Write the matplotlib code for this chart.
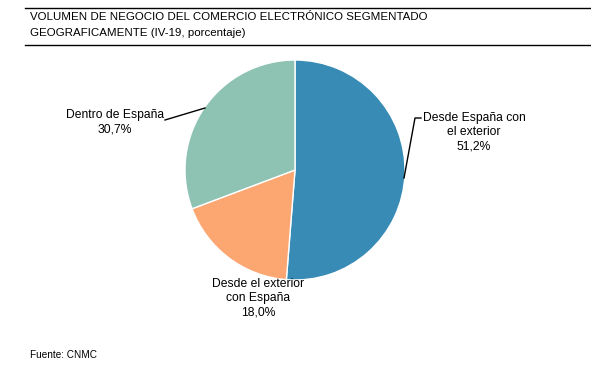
import matplotlib.pyplot as plt
from matplotlib.lines import Line2D

plt.rcParams['font.family'] = ['Liberation Sans', 'DejaVu Sans']

titulo = ["VOLUMEN DE NEGOCIO DEL COMERCIO ELECTRÓNICO SEGMENTADO",
          "GEOGRAFICAMENTE (IV-19, porcentaje)"]
categorias = ["Desde España con\nel exterior", "Desde el exterior\ncon España", "Dentro de España"]
valores = [51.2, 18.0, 30.7]
colores = ["#378bb5", "#fca672", "#8ec3b4"]
fuente = "Fuente: CNMC"

W, H = 591, 370
fig = plt.figure(figsize=(W / 100, H / 100), dpi=100)

# lineas del titulo
fig.add_artist(Line2D([25 / W, 1], [1 - 7.5 / H, 1 - 7.5 / H], color="black", lw=1))
fig.add_artist(Line2D([25 / W, 1], [1 - 44.5 / H, 1 - 44.5 / H], color="black", lw=1))
for linea, y in zip(titulo, [16.5, 32]):
    fig.text(30 / W, 1 - y / H, linea, ha="left", va="center_baseline", fontsize=8.25)
fig.text(30 / W, 1 - 355 / H, fuente, ha="left", va="center", fontsize=7.2)

ax = fig.add_axes([185 / W, (H - 280) / H, 220 / W, 220 / H])
ax.pie(valores, colors=colores, startangle=90, counterclock=False,
       wedgeprops=dict(edgecolor="white", linewidth=1))
ax.set_xlim(-1, 1)
ax.set_ylim(-1, 1)
ax.set_aspect("equal")

def etiqueta(i):
    return f"{categorias[i]}\n{valores[i]:.1f}%".replace(".", ",")

def a_datos(px, py):
    # pixeles de la figura -> coordenadas del eje
    return ax.transData.inverted().transform((px, H - py))

fig.canvas.draw()

# etiqueta derecha
fig.text(474 / W, 1 - 112 / H, etiqueta(0), ha="center", va="top", fontsize=8.7, linespacing=1.25)
ax.plot(*zip(a_datos(421, 118), a_datos(415, 118), a_datos(404, 178)),
        color="black", lw=1, clip_on=False)

# etiqueta inferior
fig.text(258 / W, 1 - 278 / H, etiqueta(1), ha="center", va="top", fontsize=8.7, linespacing=1.25)

# etiqueta izquierda
fig.text(115 / W, 1 - 109 / H, etiqueta(2), ha="center", va="top", fontsize=8.7, linespacing=1.25)
ax.plot(*zip(a_datos(165, 120), a_datos(205, 108)), color="black", lw=1, clip_on=False)

fig.savefig("out.png", dpi=100)
